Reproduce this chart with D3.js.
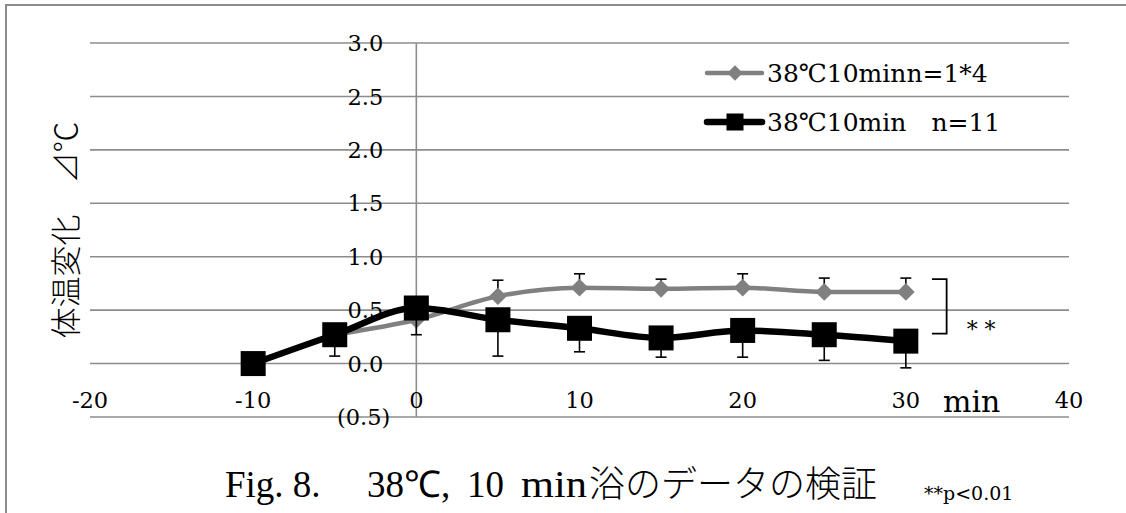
<!DOCTYPE html>
<html>
<head>
<meta charset="utf-8">
<script src="https://cdn.jsdelivr.net/npm/d3@7"></script>
<style>
  body { margin: 0; background: #fff; }
  svg { display: block; }
</style>
</head>
<body>
<script>
// DATA
var times = [-10, -5, 0, 5, 10, 15, 20, 25, 30];
var grayVals = [null, 0.27, 0.41, 0.63, 0.71, 0.70, 0.71, 0.67, 0.67];
var grayErrUp = [null, 0, 0, 0.15, 0.13, 0.09, 0.13, 0.13, 0.13];
var blackVals = [0.00, 0.27, 0.52, 0.41, 0.33, 0.24, 0.31, 0.27, 0.21];
var blackErrDown = [0, 0.20, 0.25, 0.34, 0.22, 0.18, 0.25, 0.24, 0.25];
var xTicks = [-20, -10, 0, 10, 20, 30, 40];
var yTicks = [-0.5, 0, 0.5, 1.0, 1.5, 2.0, 2.5, 3.0];
var legendLabels = ["38℃10minn=1*4", "38℃10min\u3000n=11"];
var bracketX = [31.6, 32.5];
var bracketY = [0.79, 0.28];

var W = 1126, H = 513;
var svg = d3.select("body").append("svg").attr("width", W).attr("height", H);

var x = d3.scaleLinear().domain([-20, 40]).range([90, 1069]);
var y = d3.scaleLinear().domain([-0.5, 3.0]).range([417, 43]);

var serif = "'DejaVu Serif', serif";
var times_ = "'Liberation Serif', serif";
var cjk = "'Noto Sans CJK JP', sans-serif";
var gridCol = "#8c8c8c";

// frame (left + top edges only)
svg.append("path")
    .attr("d", "M6," + H + "V5H" + W)
    .attr("fill", "none").attr("stroke", "#8c8c8c").attr("stroke-width", 2);

// horizontal gridlines
svg.append("g").selectAll("line").data(yTicks).enter().append("line")
    .attr("x1", x(-20)).attr("x2", x(40))
    .attr("y1", function(d){ return y(d); }).attr("y2", function(d){ return y(d); })
    .attr("stroke", gridCol).attr("stroke-width", 1.6);

// vertical axis at x = 0
svg.append("line")
    .attr("x1", x(0)).attr("x2", x(0)).attr("y1", y(3.0)).attr("y2", y(-0.5))
    .attr("stroke", gridCol).attr("stroke-width", 1.6);

// y tick labels
svg.append("g").selectAll("text").data(yTicks).enter().append("text")
    .attr("x", function(d){ return x(0) - 33 + (d < 0 ? 7 : 0); })
    .attr("y", function(d){ return y(d); })
    .attr("dy", "0.36em")
    .attr("text-anchor", "end")
    .attr("font-family", serif).attr("font-size", 22.5)
    .text(function(d){ return d < 0 ? "(" + d3.format(".1f")(-d) + ")" : d3.format(".1f")(d); });

// x tick labels
svg.append("g").selectAll("text").data(xTicks).enter().append("text")
    .attr("x", function(d){ return x(d); })
    .attr("y", 400)
    .attr("dy", "0.36em")
    .attr("text-anchor", "middle")
    .attr("font-family", serif).attr("font-size", 22.5)
    .text(function(d){ return d; });

svg.append("text")
    .attr("x", 943).attr("y", 412)
    .attr("font-family", serif).attr("font-size", 30)
    .text("min");

// y axis title
svg.append("text")
    .attr("transform", "translate(66,230) rotate(-90)")
    .attr("text-anchor", "middle").attr("dy", "0.36em")
    .attr("font-family", cjk).attr("font-weight", 300)
    .attr("font-size", 31)
    .text("体温変化\u3000⊿℃");

// series
var gray = times.map(function(t, i){ return {t: t, v: grayVals[i], e: grayErrUp[i]}; })
    .filter(function(d){ return d.v !== null; });
var black = times.map(function(t, i){ return {t: t, v: blackVals[i], e: blackErrDown[i]}; });

var line = d3.line().x(function(d){ return x(d.t); }).y(function(d){ return y(d.v); })
    .curve(d3.curveMonotoneX);

function errBars(data, dir) {
  var g = svg.append("g");
  var ed = data.filter(function(d){ return d.e > 0; });
  g.selectAll("line.v").data(ed).enter().append("line")
      .attr("x1", function(d){ return x(d.t); }).attr("x2", function(d){ return x(d.t); })
      .attr("y1", function(d){ return y(d.v); })
      .attr("y2", function(d){ return y(d.v + dir * d.e); })
      .attr("stroke", "#000").attr("stroke-width", 1.6);
  g.selectAll("line.c").data(ed).enter().append("line")
      .attr("x1", function(d){ return x(d.t) - 5.5; }).attr("x2", function(d){ return x(d.t) + 5.5; })
      .attr("y1", function(d){ return y(d.v + dir * d.e); })
      .attr("y2", function(d){ return y(d.v + dir * d.e); })
      .attr("stroke", "#000").attr("stroke-width", 1.6);
}

// gray series
errBars(gray, 1);
svg.append("path").attr("d", line(gray))
    .attr("fill", "none").attr("stroke", "#808080").attr("stroke-width", 4.5)
    .attr("stroke-linejoin", "round").attr("stroke-linecap", "round");
var diamond = d3.symbol().type(d3.symbolDiamond2).size(200);
svg.append("g").selectAll("path").data(gray).enter().append("path")
    .attr("transform", function(d){ return "translate(" + x(d.t) + "," + y(d.v) + ")"; })
    .attr("d", diamond).attr("fill", "#808080");

// black series
errBars(black, -1);
svg.append("path").attr("d", line(black))
    .attr("fill", "none").attr("stroke", "#000").attr("stroke-width", 6.5)
    .attr("stroke-linejoin", "round").attr("stroke-linecap", "round");
svg.append("g").selectAll("rect").data(black).enter().append("rect")
    .attr("x", function(d){ return x(d.t) - 12.5; })
    .attr("y", function(d){ return y(d.v) - 12.5; })
    .attr("width", 25).attr("height", 25).attr("fill", "#000");

// significance bracket
svg.append("path")
    .attr("d", "M" + x(bracketX[0]) + "," + y(bracketY[0]) + "H" + x(bracketX[1]) +
               "V" + y(bracketY[1]) + "H" + x(bracketX[0]))
    .attr("fill", "none").attr("stroke", "#000").attr("stroke-width", 1.8);
svg.append("text")
    .attr("x", x(bracketX[1]) + 20).attr("y", y(bracketY[1]) + 3)
    .attr("font-family", serif).attr("font-size", 22)
    .text("* *");

// legend
var lg = svg.append("g");
var legY = [73, 122];
lg.append("line").attr("x1", 707).attr("x2", 762).attr("y1", legY[0]).attr("y2", legY[0])
    .attr("stroke", "#808080").attr("stroke-width", 4.5).attr("stroke-linecap", "round");
lg.append("path").attr("transform", "translate(735," + legY[0] + ")")
    .attr("d", d3.symbol().type(d3.symbolDiamond2).size(150)).attr("fill", "#808080");
lg.append("line").attr("x1", 707).attr("x2", 762).attr("y1", legY[1]).attr("y2", legY[1])
    .attr("stroke", "#000").attr("stroke-width", 6.5).attr("stroke-linecap", "round");
lg.append("rect").attr("x", 735 - 8.5).attr("y", legY[1] - 8.5)
    .attr("width", 17).attr("height", 17).attr("fill", "#000");
lg.selectAll("text").data(legendLabels).enter().append("text")
    .attr("x", 767).attr("y", function(d, i){ return legY[i]; })
    .attr("dy", "0.36em")
    .attr("font-family", serif).attr("font-size", 25)
    .text(function(d){ return d; });

// caption
var cap = svg.append("text").attr("y", 497).attr("font-family", times_).attr("font-size", 37);
cap.append("tspan").attr("x", 225).text("Fig. 8.");
cap.append("tspan").attr("x", 367).text("38℃,");
cap.append("tspan").attr("x", 467).text("10");
cap.append("tspan").attr("x", 521).attr("textLength", 66)
    .attr("lengthAdjust", "spacingAndGlyphs").text("min");
cap.append("tspan").attr("x", 589)
    .attr("font-family", cjk).attr("font-weight", 300)
    .attr("font-size", 36)
    .text("浴のデータの検証");
svg.append("text").attr("x", 924).attr("y", 500)
    .attr("font-family", serif).attr("font-size", 19)
    .text("**p<0.01");
</script>
</body>
</html>
